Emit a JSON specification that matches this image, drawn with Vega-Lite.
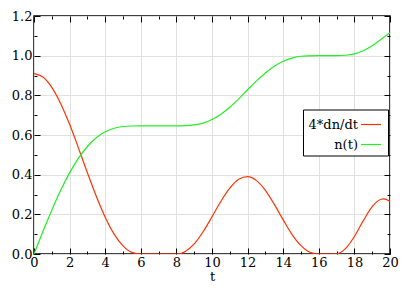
{
  "$schema": "https://vega.github.io/schema/vega-lite/v6.json",
  "width": 356,
  "height": 238,
  "autosize": {"type": "none"},
  "padding": {"left": 34, "top": 16, "right": 25, "bottom": 38},
  "background": "white",
  "config": {
    "font": "DejaVu Serif",
    "view": {"stroke": "#000000", "strokeWidth": 1.5},
    "axis": {
      "labelFont": "DejaVu Serif",
      "labelFontSize": 13,
      "labelColor": "#000000",
      "titleFont": "DejaVu Serif",
      "titleFontSize": 13,
      "titleFontWeight": "normal",
      "titleColor": "#000000",
      "tickColor": "#000000",
      "tickWidth": 1,
      "domain": false,
      "gridColor": "#e0e0e0",
      "gridWidth": 1,
      "gridOpacity": 1
    }
  },
  "data": {
    "values": [
      {"t": 0, "series": "4*dn/dt", "v": 0.910},
      {"t": 0.5, "series": "4*dn/dt", "v": 0.892},
      {"t": 1, "series": "4*dn/dt", "v": 0.840},
      {"t": 1.5, "series": "4*dn/dt", "v": 0.758},
      {"t": 2, "series": "4*dn/dt", "v": 0.654},
      {"t": 2.5, "series": "4*dn/dt", "v": 0.534},
      {"t": 3, "series": "4*dn/dt", "v": 0.410},
      {"t": 3.5, "series": "4*dn/dt", "v": 0.291},
      {"t": 4, "series": "4*dn/dt", "v": 0.185},
      {"t": 4.5, "series": "4*dn/dt", "v": 0.100},
      {"t": 5, "series": "4*dn/dt", "v": 0.041},
      {"t": 5.5, "series": "4*dn/dt", "v": 0.008},
      {"t": 6, "series": "4*dn/dt", "v": 0},
      {"t": 6.5, "series": "4*dn/dt", "v": 0},
      {"t": 7, "series": "4*dn/dt", "v": 0},
      {"t": 7.5, "series": "4*dn/dt", "v": 0},
      {"t": 8, "series": "4*dn/dt", "v": 0},
      {"t": 8.5, "series": "4*dn/dt", "v": 0.013},
      {"t": 9, "series": "4*dn/dt", "v": 0.051},
      {"t": 9.5, "series": "4*dn/dt", "v": 0.112},
      {"t": 10, "series": "4*dn/dt", "v": 0.188},
      {"t": 10.5, "series": "4*dn/dt", "v": 0.266},
      {"t": 11, "series": "4*dn/dt", "v": 0.332},
      {"t": 11.5, "series": "4*dn/dt", "v": 0.377},
      {"t": 12, "series": "4*dn/dt", "v": 0.390},
      {"t": 12.5, "series": "4*dn/dt", "v": 0.370},
      {"t": 13, "series": "4*dn/dt", "v": 0.321},
      {"t": 13.5, "series": "4*dn/dt", "v": 0.250},
      {"t": 14, "series": "4*dn/dt", "v": 0.172},
      {"t": 14.5, "series": "4*dn/dt", "v": 0.098},
      {"t": 15, "series": "4*dn/dt", "v": 0.042},
      {"t": 15.5, "series": "4*dn/dt", "v": 0.009},
      {"t": 16, "series": "4*dn/dt", "v": 0},
      {"t": 16.5, "series": "4*dn/dt", "v": 0},
      {"t": 17, "series": "4*dn/dt", "v": 0.001},
      {"t": 17.5, "series": "4*dn/dt", "v": 0.027},
      {"t": 18, "series": "4*dn/dt", "v": 0.088},
      {"t": 18.5, "series": "4*dn/dt", "v": 0.168},
      {"t": 19, "series": "4*dn/dt", "v": 0.239},
      {"t": 19.5, "series": "4*dn/dt", "v": 0.276},
      {"t": 19.64, "series": "4*dn/dt", "v": 0.278},
      {"t": 20, "series": "4*dn/dt", "v": 0.265},
      {"t": 0, "series": "n(t)", "v": 0},
      {"t": 0.5, "series": "n(t)", "v": 0.113},
      {"t": 1, "series": "n(t)", "v": 0.221},
      {"t": 1.5, "series": "n(t)", "v": 0.321},
      {"t": 2, "series": "n(t)", "v": 0.409},
      {"t": 2.5, "series": "n(t)", "v": 0.483},
      {"t": 3, "series": "n(t)", "v": 0.542},
      {"t": 3.5, "series": "n(t)", "v": 0.586},
      {"t": 4, "series": "n(t)", "v": 0.616},
      {"t": 4.5, "series": "n(t)", "v": 0.634},
      {"t": 5, "series": "n(t)", "v": 0.643},
      {"t": 5.5, "series": "n(t)", "v": 0.6455},
      {"t": 6, "series": "n(t)", "v": 0.646},
      {"t": 6.5, "series": "n(t)", "v": 0.646},
      {"t": 7, "series": "n(t)", "v": 0.646},
      {"t": 7.5, "series": "n(t)", "v": 0.646},
      {"t": 8, "series": "n(t)", "v": 0.646},
      {"t": 8.5, "series": "n(t)", "v": 0.647},
      {"t": 9, "series": "n(t)", "v": 0.651},
      {"t": 9.5, "series": "n(t)", "v": 0.660},
      {"t": 10, "series": "n(t)", "v": 0.678},
      {"t": 10.5, "series": "n(t)", "v": 0.705},
      {"t": 11, "series": "n(t)", "v": 0.740},
      {"t": 11.5, "series": "n(t)", "v": 0.782},
      {"t": 12, "series": "n(t)", "v": 0.828},
      {"t": 12.5, "series": "n(t)", "v": 0.873},
      {"t": 13, "series": "n(t)", "v": 0.913},
      {"t": 13.5, "series": "n(t)", "v": 0.947},
      {"t": 14, "series": "n(t)", "v": 0.972},
      {"t": 14.5, "series": "n(t)", "v": 0.988},
      {"t": 15, "series": "n(t)", "v": 0.997},
      {"t": 15.5, "series": "n(t)", "v": 0.999},
      {"t": 16, "series": "n(t)", "v": 1.000},
      {"t": 16.5, "series": "n(t)", "v": 1.000},
      {"t": 17, "series": "n(t)", "v": 1.000},
      {"t": 17.5, "series": "n(t)", "v": 1.002},
      {"t": 18, "series": "n(t)", "v": 1.009},
      {"t": 18.5, "series": "n(t)", "v": 1.025},
      {"t": 19, "series": "n(t)", "v": 1.050},
      {"t": 19.5, "series": "n(t)", "v": 1.083},
      {"t": 20, "series": "n(t)", "v": 1.116}
    ]
  },
  "resolve": {"axis": {"x": "independent", "y": "independent"}},
  "layer": [
    {
      "mark": {"type": "line", "strokeWidth": 1.2, "interpolate": "monotone", "clip": true},
      "encoding": {
        "x": {
          "field": "t", "type": "quantitative",
          "scale": {"domain": [0, 20], "nice": false, "zero": false},
          "axis": {"orient": "bottom", "values": [0, 2, 4, 6, 8, 10, 12, 14, 16, 18, 20], "format": "d", "grid": true, "tickSize": -6, "labelPadding": 8, "labelFont": "DejaVu Serif", "labelFontSize": 13, "title": "t", "titleFont": "DejaVu Serif", "titleFontSize": 13, "titlePadding": 1, "labelFlush": false, "labelOverlap": false}
        },
        "y": {
          "field": "v", "type": "quantitative",
          "scale": {"domain": [0, 1.2], "nice": false, "zero": false},
          "axis": {"orient": "left", "values": [0, 0.2, 0.4, 0.6, 0.8, 1.0, 1.2], "format": ".1f", "grid": true, "tickSize": -6, "labelPadding": 8, "labelFont": "DejaVu Serif", "labelFontSize": 13, "title": null, "labelFlush": false, "labelOverlap": false}
        },
        "color": {
          "field": "series", "type": "nominal",
          "scale": {"domain": ["4*dn/dt", "n(t)"], "range": ["#ff3300", "#22ee22"]},
          "legend": {
            "orient": "none", "legendX": 269, "legendY": 93.5, "title": null,
            "symbolType": "stroke", "symbolSize": 400, "symbolStrokeWidth": 1.2,
            "labelFont": "DejaVu Serif", "labelFontSize": 13, "labelColor": "#000000",
            "labelAlign": "right", "labelOffset": -24, "symbolOffset": 53, "labelLimit": 200,
            "strokeColor": "#000000", "fillColor": "#ffffff", "padding": 4, "rowPadding": 2
          }
        }
      }
    },
    {
      "mark": {"type": "line", "opacity": 0},
      "encoding": {
        "x": {"field": "t", "type": "quantitative", "axis": {"orient": "top", "values": [0, 2, 4, 6, 8, 10, 12, 14, 16, 18, 20], "tickSize": -6, "labels": false, "grid": false, "title": null}},
        "y": {"field": "v", "type": "quantitative", "axis": {"orient": "right", "values": [0, 0.2, 0.4, 0.6, 0.8, 1.0, 1.2], "tickSize": -6, "labels": false, "grid": false, "title": null}},
        "detail": {"field": "series"}
      }
    },
    {
      "mark": {"type": "line", "opacity": 0},
      "encoding": {
        "x": {"field": "t", "type": "quantitative", "axis": {"orient": "bottom", "values": [1, 3, 5, 7, 9, 11, 13, 15, 17, 19], "tickSize": -3, "labels": false, "grid": false, "title": null}},
        "y": {"field": "v", "type": "quantitative", "axis": {"orient": "left", "values": [0.1, 0.3, 0.5, 0.7, 0.9, 1.1], "tickSize": -3, "labels": false, "grid": false, "title": null}},
        "detail": {"field": "series"}
      }
    },
    {
      "mark": {"type": "line", "opacity": 0},
      "encoding": {
        "x": {"field": "t", "type": "quantitative", "axis": {"orient": "top", "values": [1, 3, 5, 7, 9, 11, 13, 15, 17, 19], "tickSize": -3, "labels": false, "grid": false, "title": null}},
        "y": {"field": "v", "type": "quantitative", "axis": {"orient": "right", "values": [0.1, 0.3, 0.5, 0.7, 0.9, 1.1], "tickSize": -3, "labels": false, "grid": false, "title": null}},
        "detail": {"field": "series"}
      }
    }
  ]
}
